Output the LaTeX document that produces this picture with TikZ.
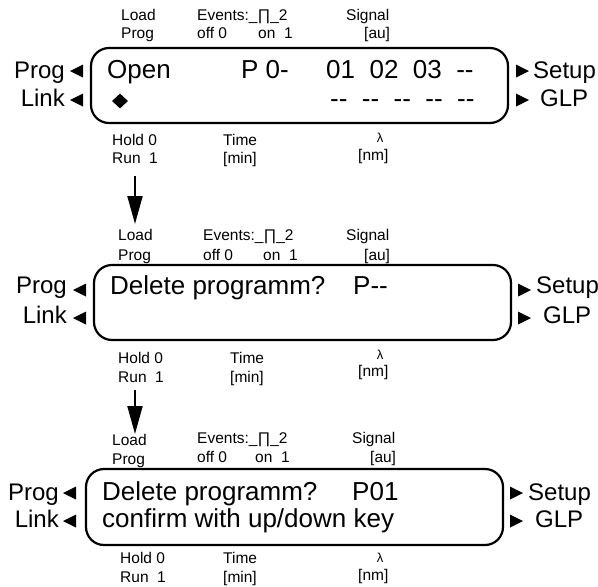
\documentclass[tikz,border=0pt]{standalone}
\usepackage{fontspec}
\setmainfont{Liberation Sans}
\usetikzlibrary{arrows.meta,shapes.geometric}
\newcommand\mytril[2]{\fill (#1,#2) -- ++(13,-6.5) -- ++(0,13) -- cycle;}
\newcommand\mytrir[2]{\fill (#1,#2) -- ++(-13,-6.5) -- ++(0,13) -- cycle;}
\begin{document}
\begin{tikzpicture}[x=1pt,y=-1pt,
  small/.style={font=\fontsize{15.5}{15.5}\selectfont, inner sep=0pt, anchor=base west},
  lam/.style={font=\fontsize{13}{13}\selectfont, inner sep=0pt, anchor=base},
  side/.style={font=\fontsize{24}{24}\selectfont, inner sep=0pt},
  big/.style={font=\fontsize{26}{26}\selectfont, inner sep=0pt, anchor=base west},
  screen/.style={draw, line width=2.2pt, rounded corners=18pt, inner sep=0pt, minimum width=417pt},
  flow/.style={line width=2pt, -{Triangle[length=28pt,width=15pt]}}]
\useasboundingbox (0,0) rectangle (598,587);

% ---------- panel 1
\node[screen, minimum height=75pt] (s1) at (299.5,85.5) {};
\node[small] (s1load) at (121,20) {Load};
\node[small] (s1prog) at (121,38) {Prog};
\node[small] (s1ev) at (197,20) {Events:\_∏\_2};
\node[small] (s1off) at (197,38) {off 0};
\node[small] (s1on) at (258,38) {on\ \ 1};
\node[small] (s1sig) at (346,20) {Signal};
\node[small] (s1au) at (364,38) {[au]};
\node[big] (s1a) at (107,78) {Open};
\node[big] (s1b) at (241,78) {P 0-};
\node[big] (s1c) at (326,78) {01\ \ 02\ \ 03\ \ -{}-};
\node[big] (s1d) at (330,107) {-{}-\ \ -{}-\ \ -{}-\ \ -{}-\ \ -{}-};
\node[diamond, fill, inner sep=0pt, minimum width=16pt, minimum height=15pt] (s1dia) at (120,101) {};
\node[side, anchor=base east] (s1lp) at (65,78) {Prog};
\node[side, anchor=base east] (s1ll) at (65,106) {Link};
\mytril{70}{71}
\mytril{70}{100}
\mytrir{529}{71}
\mytrir{529}{100}
\node[side, anchor=base west] (s1rs) at (533,78) {Setup};
\node[side, anchor=base west] (s1rg) at (540,106) {GLP};
\node[small] (s1hold) at (112,145) {Hold 0};
\node[small] (s1run) at (112,163) {Run\ \ 1};
\node[small] (s1time) at (223,145) {Time};
\node[small] (s1min) at (223,163) {[min]};
\node[lam] (s1lam) at (380,142) {λ};
\node[small] (s1nm) at (358,160) {[nm]};

% ---------- panel 2
\node[screen, minimum height=75pt] (s2) at (302.5,302.5) {};
\node[small] (s2load) at (118,240) {Load};
\node[small] (s2prog) at (118,260) {Prog};
\node[small] (s2ev) at (203,240) {Events:\_∏\_2};
\node[small] (s2off) at (203,260) {off 0};
\node[small] (s2on) at (263,260) {on\ \ 1};
\node[small] (s2sig) at (346,240) {Signal};
\node[small] (s2au) at (364,260) {[au]};
\node[big] (s2a) at (110,294) {Delete programm?};
\node[big] (s2b) at (353,294) {P-{}-};
\node[side, anchor=base east] (s2lp) at (67,293) {Prog};
\node[side, anchor=base east] (s2ll) at (67,323) {Link};
\mytril{73}{290}
\mytril{73}{318}
\mytrir{531}{290}
\mytrir{531}{318}
\node[side, anchor=base west] (s2rs) at (536,293) {Setup};
\node[side, anchor=base west] (s2rg) at (543,323) {GLP};
\node[small] (s2hold) at (118,363) {Hold 0};
\node[small] (s2run) at (118,382) {Run\ \ 1};
\node[small] (s2time) at (230,363) {Time};
\node[small] (s2min) at (230,382) {[min]};
\node[lam] (s2lam) at (380,359) {λ};
\node[small] (s2nm) at (358,376) {[nm]};

% ---------- panel 3
\node[screen, minimum height=76pt] (s3) at (294.5,507) {};
\node[small] (s3load) at (112,445) {Load};
\node[small] (s3prog) at (112,464) {Prog};
\node[small] (s3ev) at (197,443) {Events:\_∏\_2};
\node[small] (s3off) at (197,462) {off 0};
\node[small] (s3on) at (255,462) {on\ \ 1};
\node[small] (s3sig) at (352,443) {Signal};
\node[small] (s3au) at (370,462) {[au]};
\node[big] (s3a) at (102,500) {Delete programm?};
\node[big] (s3b) at (352,500) {P01};
\node[big] (s3c) at (102,527) {confirm with up/down key};
\node[side, anchor=base east] (s3lp) at (59,500) {Prog};
\node[side, anchor=base east] (s3ll) at (59,527) {Link};
\mytril{63}{493}
\mytril{63}{521}
\mytrir{523}{493}
\mytrir{523}{521}
\node[side, anchor=base west] (s3rs) at (528,500) {Setup};
\node[side, anchor=base west] (s3rg) at (535,527) {GLP};
\node[small] (s3hold) at (120,563) {Hold 0};
\node[small] (s3run) at (120,582) {Run\ \ 1};
\node[small] (s3time) at (223,563) {Time};
\node[small] (s3min) at (223,582) {[min]};
\node[lam] (s3lam) at (380,562) {λ};
\node[small] (s3nm) at (358,580) {[nm]};

% ---------- arrows
\coordinate (a1s) at (135,176);
\coordinate (a1e) at (135,224);
\coordinate (a2s) at (135,390);
\coordinate (a2e) at (135,434);
\draw[flow] (a1s) -- (a1e);
\draw[flow] (a2s) -- (a2e);
\end{tikzpicture}
\end{document}
